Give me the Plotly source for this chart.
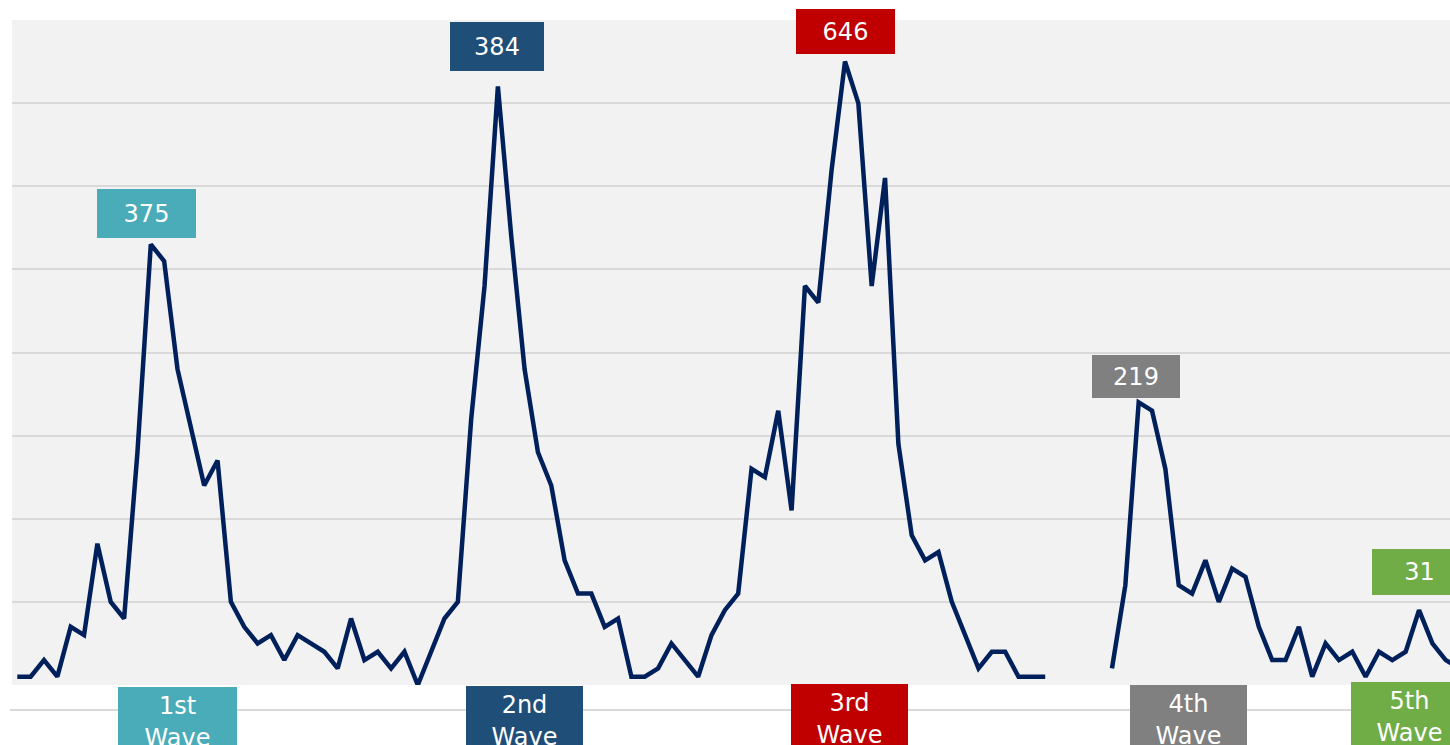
import plotly.graph_objects as go

# weekly counts (index = week number); None = no data
values = [1, 1, 3, 1, 7, 6, 17, 10, 8, 28, 53, 51, 38, 31, 24, 27, 10, 7, 5, 6, 3, 6, 5, 4, 2, 8, 3, 4, 2, 4,
          0, 4, 8, 10, 32, 48, 72, 54, 38, 28, 24, 15, 11, 11, 7, 8, 1, 1, 2, 5, 3, 1,
          6, 9, 11, 26, 25, 33, 21, 48, 46, 62, 75, 70, 48, 61, 29, 18, 15, 16, 10, 6, 2, 4, 4, 1, 1, 1,
          None, None, None, None,
          2, 12, 34, 33, 26, 12, 11, 15, 10, 14, 13, 7, 3, 3, 7, 1, 5, 3, 4, 1, 4, 3, 4, 9, 5, 3, 2]
weeks = list(range(len(values)))

# wave totals shown above peaks
peak_labels = ["375", "384", "646", "219", "31"]
peak_index = [10, 36, 62, 84, 105]
wave_names = ["1st<br>Wave", "2nd<br>Wave", "3rd<br>Wave", "4th<br>Wave", "5th<br>Wave"]
wave_center = [12.03, 37.97, 62.35, 87.74, 104.3]
wave_colors = ["#4BACB9", "#1F4E79", "#C00000", "#808080", "#70AD47"]

# label styling
peak_xshift = [-4, -1, 1, -3, 0]
peak_yshift = [6, 16, 8, 4, 15]
peak_w = [99, 94, 99, 88, 95]
peak_h = [49, 49, 45, 43, 46]
wave_yshift = [-2, -1, 1, 0, 3]
wave_w = [119, 117, 117, 117, 117]

FONT = "DejaVu Sans"

fig = go.Figure()
fig.add_trace(go.Scatter(
    x=weeks, y=values, mode="lines", connectgaps=False,
    line=dict(color="#00205B", width=4.5), hoverinfo="skip", showlegend=False,
))

annotations = []
for lab, idx, xs, ys, w, h, c in zip(peak_labels, peak_index, peak_xshift, peak_yshift, peak_w, peak_h, wave_colors):
    annotations.append(dict(
        x=idx, y=values[idx], xref="x", yref="y", text=lab, showarrow=False,
        xanchor="center", yanchor="bottom", xshift=xs, yshift=ys,
        width=w, height=h, bgcolor=c, borderpad=0, borderwidth=0,
        align="center", valign="middle",
        font=dict(family=FONT, size=24, color="white"),
    ))
for name, xc, ys, w, c in zip(wave_names, wave_center, wave_yshift, wave_w, wave_colors):
    annotations.append(dict(
        x=xc, y=0, xref="x", yref="paper", text=name, showarrow=False,
        xanchor="center", yanchor="top", yshift=ys,
        width=w, height=70, bgcolor=c, borderpad=0, borderwidth=0,
        align="center", valign="middle",
        font=dict(family=FONT, size=24, color="white"),
    ))

fig.update_layout(
    width=1450, height=745,
    margin=dict(l=12, r=0, t=20, b=60),
    paper_bgcolor="white", plot_bgcolor="#F2F2F2",
    showlegend=False,
    xaxis=dict(range=[-0.397, 107.32], showgrid=False, zeroline=False,
               showticklabels=False, ticks="", showline=False, fixedrange=True),
    yaxis=dict(range=[0, 80], dtick=10, showgrid=True, gridcolor="#D9D9D9", gridwidth=2,
               zeroline=False, showticklabels=False, ticks="", showline=False, fixedrange=True),
    annotations=annotations,
    shapes=[dict(type="line", xref="paper", yref="paper", x0=-0.0014, x1=1.0,
                 y0=-25 / 665, y1=-25 / 665, line=dict(color="#D9D9D9", width=2), layer="below")],
)

fig.write_html(
    "out.html",
    config={"displayModeBar": False},
    post_script="document.body.style.margin='0px';document.body.style.overflow='hidden';",
)
